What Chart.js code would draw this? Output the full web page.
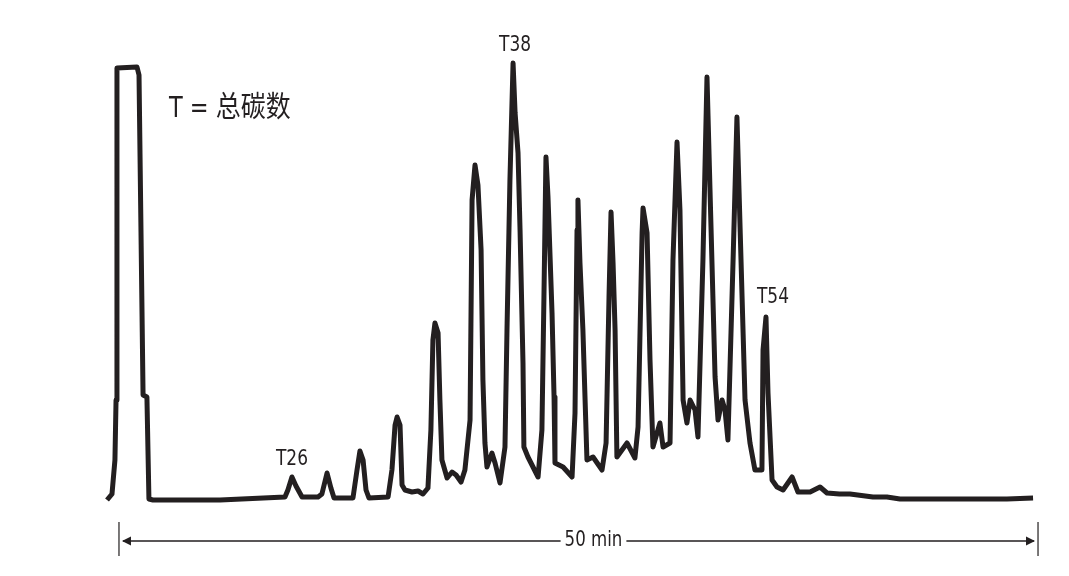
<!DOCTYPE html>
<html>
<head>
<meta charset="utf-8">
<script src="https://cdn.jsdelivr.net/npm/chart.js@4/dist/chart.umd.min.js"></script>
<style>
  body { margin: 0; background: #fff; }
</style>
</head>
<body>
<canvas id="chart" width="1069" height="576"></canvas>
<script>
// retention time (min) and detector signal
const times = [
  -0.65, -0.38, -0.22, -0.16, -0.11, 0.98, 1.09, 1.31, 1.52, 1.63, 1.85, 5.50,
  9.03, 9.19, 9.41, 9.63, 9.96, 10.83, 11.04, 11.32, 11.53, 11.70,
  12.73, 12.95, 13.11, 13.28, 13.44, 13.60,
  14.64, 14.85, 15.02, 15.13, 15.29, 15.40, 15.56, 15.94, 16.27, 16.54, 16.81,
  16.97, 17.08, 17.19, 17.36, 17.46, 17.57, 17.85, 18.12, 18.34, 18.61, 18.82,
  19.10, 19.21, 19.37, 19.53, 19.70, 19.80, 19.91, 20.02, 20.29, 20.46, 20.73,
  21.00, 21.11, 21.27, 21.44, 21.55, 21.71, 21.82, 21.98, 22.03, 22.25, 22.80,
  23.01, 23.12, 23.23, 23.34, 23.56, 23.67, 23.72, 24.16, 24.65,
  24.81, 24.92, 24.97, 25.08, 25.24, 25.46, 25.79, 26.28,
  26.50, 26.66, 26.77, 26.88, 26.99, 27.09, 27.64, 28.07,
  28.24, 28.46, 28.51, 28.73, 28.89, 29.05, 29.43, 29.60, 29.98,
  30.14, 30.36, 30.52, 30.69, 30.90, 31.07, 31.34, 31.50,
  31.77, 31.99, 32.15, 32.43, 32.59, 32.81, 32.97, 33.13,
  33.41, 33.62, 33.79, 34.06, 34.33, 34.60, 34.98,
  35.04, 35.20, 35.31, 35.53, 35.80, 36.13, 36.62, 36.94,
  37.60, 38.14, 38.52, 39.20, 39.77, 41.02, 41.78, 42.49, 45.38, 46.84, 48.31, 49.73
];
const signal = [
  0, 6, 40, 100, 432, 433, 425, 105, 103, 1, 0, 0,
  3, 10, 23, 14, 3, 3, 6, 27, 12, 2,
  2, 30, 49, 40, 10, 2,
  3, 30, 75, 83, 75, 15, 10, 8, 9, 6, 12,
  70, 160, 177, 167, 100, 40, 22, 28, 25, 18, 30,
  80, 300, 335, 315, 250, 120, 57, 33, 47, 37, 17,
  53, 170, 320, 437, 387, 347, 270, 137, 53, 43, 23,
  70, 203, 343, 303, 187, 103, 37, 33, 23,
  87, 270, 300, 237, 170, 40, 43, 30,
  57, 203, 288, 237, 170, 43, 57, 42,
  73, 267, 292, 267, 140, 53, 77, 53, 57,
  240, 358, 290, 100, 77, 100, 90, 63,
  240, 423, 313, 123, 80, 100, 90, 60,
  240, 383, 273, 100, 57, 30, 30,
  150, 183, 107, 20, 13, 10, 23, 8,
  8, 13, 7, 6, 6, 3, 3, 1, 1, 1, 1, 2
];

const peakLabels = ['T26', 'T38', 'T54'];
const peakTimes = [9.41, 21.44, 35.20];
const peakSignals = [23, 437, 183];

const legendText = 'T = 总碳数';
const spanLabel = '50 min';
const spanStart = 0;
const spanEnd = 50;

const ink = '#231f20';
const fontFamily = '"DejaVu Sans Condensed", "Noto Sans CJK SC", sans-serif';

// the original lettering is a condensed face, so squeeze it sideways
function narrowText(ctx, text, x, y, sx) {
  ctx.save();
  ctx.translate(x, y);
  ctx.scale(sx, 1);
  ctx.fillText(text, 0, 0);
  ctx.restore();
}

const annotations = {
  id: 'annotations',
  afterDatasetsDraw(chart) {
    const { ctx, scales: { x, y } } = chart;
    ctx.save();
    ctx.fillStyle = ink;
    ctx.strokeStyle = ink;

    // peak labels
    ctx.font = '21px ' + fontFamily;
    ctx.textAlign = 'center';
    ctx.textBaseline = 'alphabetic';
    peakLabels.forEach((lab, i) => {
      let px = x.getPixelForValue(peakTimes[i]);
      let py = y.getPixelForValue(peakSignals[i]) - 10;
      if (lab === 'T38') { px += 2; py -= 2; }
      if (lab === 'T54') { px += 7; py -= 4; }
      if (lab === 'T26') { py -= 2; }
      narrowText(ctx, lab, px, py, 0.9);
    });

    // legend note
    ctx.font = '29px ' + fontFamily;
    ctx.textAlign = 'left';
    narrowText(ctx, legendText, 169, 117, 0.86);

    // 50 min span arrow
    const x0 = x.getPixelForValue(spanStart);
    const x1 = x.getPixelForValue(spanEnd);
    const ay = 541;
    ctx.lineWidth = 1.2;
    ctx.beginPath();
    ctx.moveTo(x0, 522); ctx.lineTo(x0, 556);
    ctx.moveTo(x1, 522); ctx.lineTo(x1, 556);
    ctx.stroke();

    ctx.font = '21px ' + fontFamily;
    ctx.textAlign = 'center';
    ctx.textBaseline = 'middle';
    const mid = (x0 + x1) / 2 + 15;
    const tw = ctx.measureText(spanLabel).width * 0.88;
    narrowText(ctx, spanLabel, mid, ay, 0.88);

    ctx.lineWidth = 1.5;
    ctx.beginPath();
    ctx.moveTo(x0 + 4, ay); ctx.lineTo(mid - tw / 2 - 4, ay);
    ctx.moveTo(mid + tw / 2 + 4, ay); ctx.lineTo(x1 - 4, ay);
    ctx.stroke();

    ctx.beginPath();
    ctx.moveTo(x0 + 3, ay); ctx.lineTo(x0 + 12, ay - 4.5); ctx.lineTo(x0 + 12, ay + 4.5);
    ctx.closePath();
    ctx.moveTo(x1 - 3, ay); ctx.lineTo(x1 - 12, ay - 4.5); ctx.lineTo(x1 - 12, ay + 4.5);
    ctx.closePath();
    ctx.fill();

    ctx.restore();
  }
};

new Chart(document.getElementById('chart').getContext('2d'), {
  type: 'line',
  data: {
    datasets: [{
      data: times.map((t, i) => ({ x: t, y: signal[i] })),
      borderColor: ink,
      borderWidth: 5,
      borderJoinStyle: 'round',
      pointRadius: 0,
      tension: 0,
      fill: false,
      clip: false
    }]
  },
  options: {
    responsive: false,
    animation: false,
    layout: { padding: { left: 100.6, right: 12.6, top: 60, bottom: 76 } },
    plugins: { legend: { display: false }, tooltip: { enabled: false } },
    scales: {
      x: { type: 'linear', min: -1, max: 51, display: false },
      y: { min: 0, max: 440, display: false }
    }
  },
  plugins: [annotations]
});
</script>
</body>
</html>
